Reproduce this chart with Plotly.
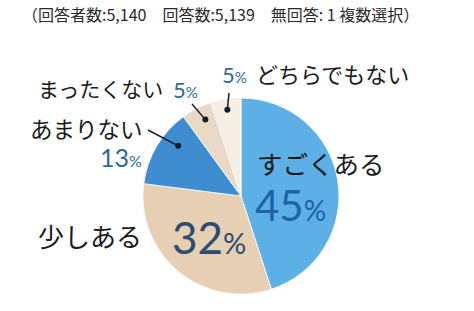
import math
import plotly.graph_objects as go

# ---- data ----
labels = ["すごくある", "少しある", "あまりない", "まったくない", "どちらでもない"]
values = [45, 32, 13, 5, 5]
title_text = "（回答者数:5,140　回答数:5,139　無回答: 1 複数選択）"

# ---- style ----
W, H = 474, 311
slice_colors = ["#5cb0e6", "#e6cfb3", "#3e8dd0", "#e9d8c5", "#f6ede3"]
CX, CY, R = 241, 196, 98  # pie centre / radius in pixels
JP = "Noto Sans CJK JP"
PCT_FONT = "Lato, Noto Sans, sans-serif"

def px(x):
    return x / W

def py(y):
    return 1 - y / H

fig = go.Figure(go.Pie(
    labels=labels, values=values, sort=False, direction="clockwise", rotation=0,
    marker=dict(colors=slice_colors, line=dict(color="#f4f4f4", width=1)),
    textinfo="none", hoverinfo="label+percent", showlegend=False,
    domain=dict(x=[px(CX - R), px(CX + R)], y=[py(CY + R), py(CY - R)]),
))

# point inside slice i at a radial fraction, using the pie's geometry
total = sum(values)
def slice_point(i, frac, shift=0.0):
    cum = sum(values[:i]) + values[i] / 2
    ang = math.radians(cum / total * 360 + shift)
    return CX + frac * R * math.sin(ang), CY - frac * R * math.cos(ang)

shapes = []
leaders = [(2, 0.82, 8, (148, 130)), (3, 0.86, 2, (192, 104)), (4, 0.89, 0, (229, 93))]
for i, frac, shift, (tx, ty) in leaders:
    dx, dy = slice_point(i, frac, shift)
    shapes.append(dict(type="line", xref="paper", yref="paper",
                       x0=px(tx), y0=py(ty), x1=px(dx), y1=py(dy),
                       line=dict(color="#1a1a2a", width=1.5)))
    r = 3
    shapes.append(dict(type="circle", xref="paper", yref="paper",
                       x0=px(dx - r), x1=px(dx + r), y0=py(dy + r), y1=py(dy - r),
                       fillcolor="#1a1a2a", line=dict(width=0)))

def pct(v, big, small):
    return f"<span style='font-size:{big}px'>{v}</span><span style='font-size:{small}px'>%</span>"

ann = []
def add(text, x, y, size, color, font=JP, xanchor="left"):
    ann.append(dict(text=text, x=px(x), y=py(y), xref="paper", yref="paper",
                    xanchor=xanchor, yanchor="middle", showarrow=False,
                    font=dict(family=font, size=size, color=color)))

add(title_text, 20, 14, 16, "#2a2a2a")
add(labels[3], 36, 88, 21, "#1a1a1a")
add(pct(values[3], 22, 15), 171, 89, 22, "#2c6c94", PCT_FONT)
add(pct(values[4], 22, 15), 220, 74, 22, "#2c6c94", PCT_FONT)
add(labels[4], 254, 73, 22, "#1a1a1a")
add(labels[2], 28, 128, 22.5, "#1a1a1a")
add(pct(values[2], 25, 16), 98, 157, 25, "#2c6c94", PCT_FONT)
add(labels[0], 255, 162, 25.5, "#1a1a1a")
add(pct(values[0], 42, 28), 253, 205, 42, "#1f62a6", PCT_FONT)
add(labels[1], 36, 235, 26, "#1a1a1a")
add(pct(values[1], 44, 29), 170, 237, 44, "#2a4d70", PCT_FONT)

fig.update_layout(width=W, height=H, margin=dict(l=0, r=0, t=0, b=0),
                  paper_bgcolor="white", plot_bgcolor="white",
                  shapes=shapes, annotations=ann)
fig.write_html("out.html")
